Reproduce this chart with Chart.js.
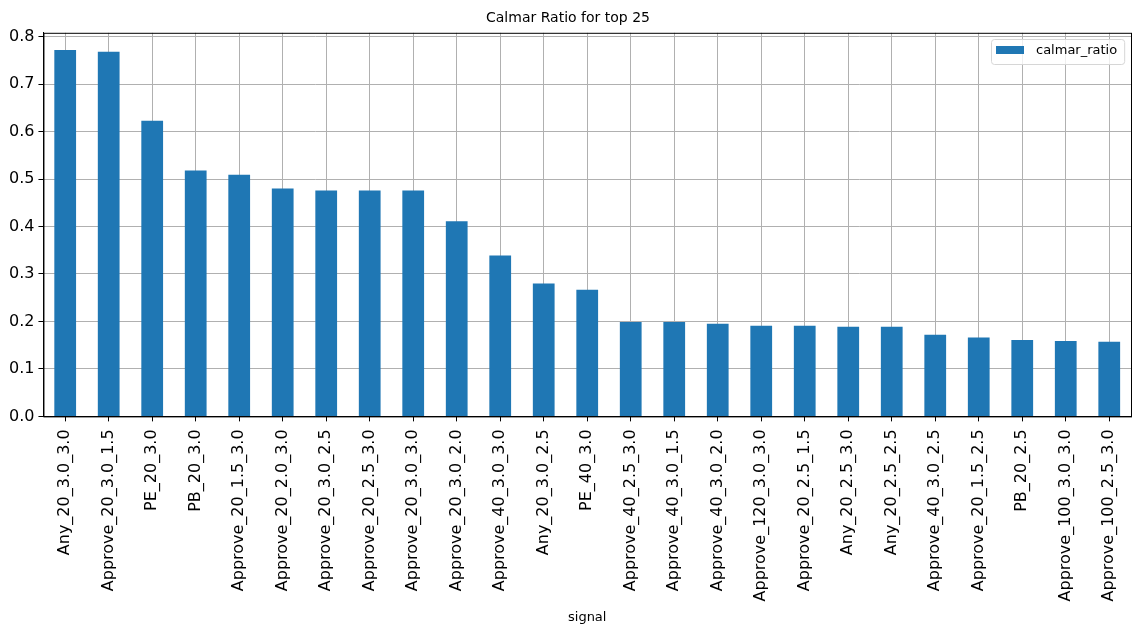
<!DOCTYPE html>
<html>
<head>
<meta charset="utf-8">
<script src="https://cdn.jsdelivr.net/npm/chart.js@4/dist/chart.umd.min.js"></script>
<style>
    html, body { margin: 0; padding: 0; background: #fff; }
    #wrap { width: 1141px; height: 635px; position: relative; }
</style>
</head>
<body>
<div id="wrap"><canvas id="calmarChart"></canvas></div>
<script>
// --- Data ---
const signals = [
    'Any_20_3.0_3.0', 'Approve_20_3.0_1.5', 'PE_20_3.0', 'PB_20_3.0',
    'Approve_20_1.5_3.0', 'Approve_20_2.0_3.0', 'Approve_20_3.0_2.5', 'Approve_20_2.5_3.0',
    'Approve_20_3.0_3.0', 'Approve_20_3.0_2.0', 'Approve_40_3.0_3.0', 'Any_20_3.0_2.5',
    'PE_40_3.0', 'Approve_40_2.5_3.0', 'Approve_40_3.0_1.5', 'Approve_40_3.0_2.0',
    'Approve_120_3.0_3.0', 'Approve_20_2.5_1.5', 'Any_20_2.5_3.0', 'Any_20_2.5_2.5',
    'Approve_40_3.0_2.5', 'Approve_20_1.5_2.5', 'PB_20_2.5', 'Approve_100_3.0_3.0',
    'Approve_100_2.5_3.0'
];
const calmarRatio = [
    0.772, 0.768, 0.623, 0.518, 0.509, 0.480, 0.476, 0.476,
    0.476, 0.411, 0.339, 0.280, 0.267, 0.199, 0.199, 0.195,
    0.191, 0.191, 0.189, 0.189, 0.172, 0.166, 0.161, 0.159,
    0.157
];
const yTicks = [0, 0.1, 0.2, 0.3, 0.4, 0.5, 0.6, 0.7, 0.8];

const FONT = "'DejaVu Sans', sans-serif";
const BAR_COLOR = '#1f77b4';

// full black frame round the plot + matplotlib-style legend in the top right corner
const framePlugin = {
    id: 'frame',
    afterDraw(chart) {
        const { ctx, chartArea: a } = chart;
        ctx.save();
        ctx.strokeStyle = '#000';
        ctx.lineWidth = 1;
        ctx.strokeRect(a.left + 0.5, a.top + 0.5, a.right - a.left, a.bottom - a.top);

        // legend
        const label = chart.data.datasets[0].label;
        ctx.font = '13px ' + FONT;
        const tw = ctx.measureText(label).width;
        const w = 5 + 28 + 12 + tw + 7;
        const h = 25;
        const x = Math.round(a.right - 7 - w) + 0.5;
        const y = Math.round(a.top + 6) + 0.5;
        ctx.beginPath();
        ctx.roundRect(x, y, w, h, 3);
        ctx.fillStyle = 'rgba(255,255,255,0.8)';
        ctx.fill();
        ctx.strokeStyle = '#d6d6d6';
        ctx.stroke();

        ctx.fillStyle = BAR_COLOR;
        ctx.fillRect(x + 4.5, y + 6.5, 28, 8);

        ctx.fillStyle = '#000';
        ctx.textBaseline = 'middle';
        ctx.textAlign = 'left';
        ctx.fillText(label, x + 44.5, y + 11.5);
        ctx.restore();
    }
};

Chart.defaults.font.family = FONT;
Chart.defaults.color = '#000';

new Chart(document.getElementById('calmarChart').getContext('2d'), {
    type: 'bar',
    data: {
        labels: signals,
        datasets: [{
            label: 'calmar_ratio',
            data: calmarRatio,
            backgroundColor: BAR_COLOR,
            borderWidth: 0,
            categoryPercentage: 1.0,
            barPercentage: 0.5
        }]
    },
    options: {
        responsive: true,
        maintainAspectRatio: false,
        animation: false,
        layout: { padding: { left: 5, right: 10, top: 4, bottom: 10 } },
        plugins: {
            title: {
                display: true,
                text: 'Calmar Ratio for top 25',
                font: { size: 14, weight: 'normal' },
                color: '#000',
                padding: { top: 6, bottom: 6 }
            },
            legend: { display: false },
            tooltip: { enabled: false }
        },
        scales: {
            x: {
                z: 1,
                offset: true,
                grid: {
                    color: '#b0b0b0',
                    tickColor: '#000',
                    tickLength: 5,
                    offset: false
                },
                border: { color: '#000' },
                ticks: {
                    autoSkip: false,
                    minRotation: 90,
                    maxRotation: 90,
                    padding: 8,
                    font: { size: 16 },
                    color: '#000'
                },
                title: {
                    display: true,
                    text: 'signal',
                    font: { size: 13 },
                    color: '#000',
                    padding: { top: 0, bottom: 0 }
                }
            },
            y: {
                z: 1,
                min: 0,
                max: 0.808,
                afterBuildTicks(scale) {
                    scale.ticks = yTicks.map(v => ({ value: v }));
                },
                grid: {
                    color: '#b0b0b0',
                    tickColor: '#000',
                    tickLength: 5
                },
                border: { color: '#000' },
                ticks: {
                    padding: 4,
                    font: { size: 16 },
                    color: '#000',
                    callback: v => Number(v).toFixed(1)
                }
            }
        }
    },
    plugins: [framePlugin]
});
</script>
</body>
</html>
